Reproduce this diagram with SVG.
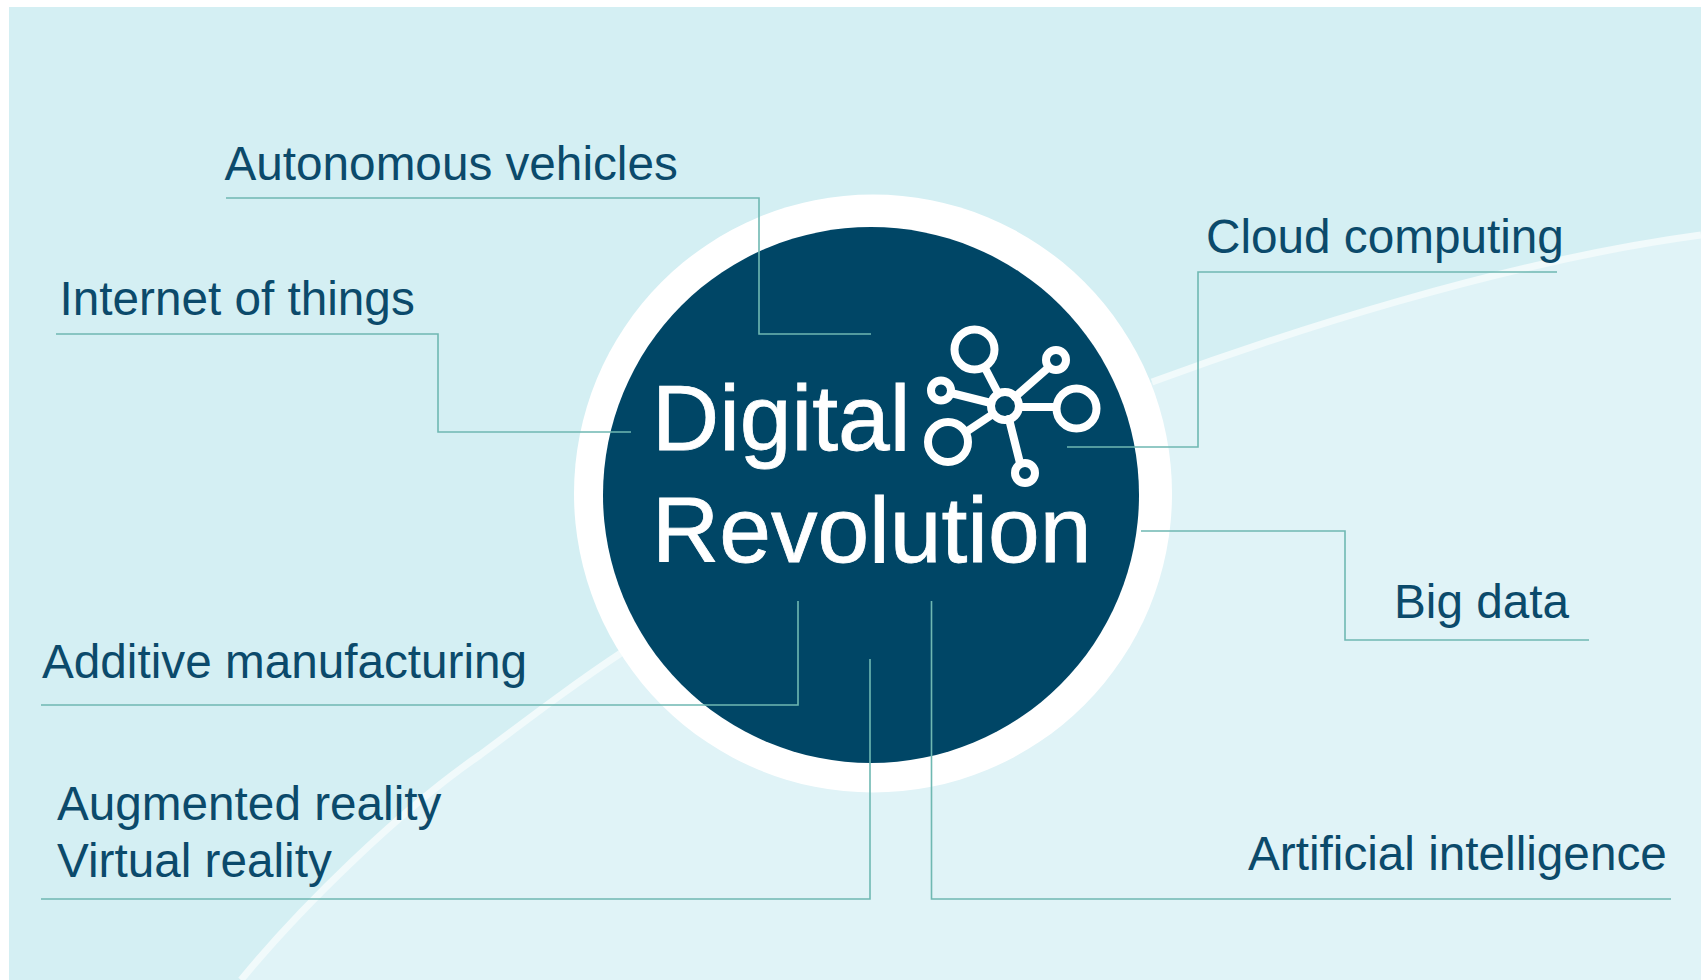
<svg xmlns="http://www.w3.org/2000/svg" width="1701" height="980" viewBox="0 0 1701 980">
<style>
text{font-family:"Liberation Sans",Arial,sans-serif}
.lbl{font-size:47.7px;fill:#0b4a6b}
.title{font-size:93px;fill:#fff;stroke:#fff;stroke-width:.8}
.conn{fill:none;stroke:#6fb8b2;stroke-width:1.6}
.ic{fill:none;stroke:#fff;stroke-width:8}
.arc{fill:none;stroke:#f1fafb;stroke-width:7}
</style>
<rect width="1701" height="980" fill="#fff"/>
<rect x="9" y="7" width="1692" height="973" fill="#d4eff3"/>
<path d="M241 980C300 908 400 810 480 755C540 710 580 680 624 651L1152 382C1280 335 1500 262 1701 235V980Z" fill="#e0f3f7"/>
<path class="arc" d="M241 980C300 908 400 810 480 755C540 710 580 680 624 651"/>
<path class="arc" d="M1152 382C1280 335 1500 262 1701 235"/>
<g id="hub">
<circle cx="873" cy="493.5" r="299" fill="#fff"/>
<circle cx="871" cy="495" r="268" fill="#004666"/>
<text class="title" x="652" y="450">Digital</text>
<text class="title" x="652" y="562">Revolution</text>
<g id="icon" stroke-linecap="round">
<circle class="ic" cx="1005" cy="406" r="14"/>
<circle class="ic" cx="974.5" cy="349.5" r="20"/>
<circle class="ic" cx="1056" cy="360" r="10"/>
<circle class="ic" cx="1076.5" cy="408.5" r="20"/>
<circle class="ic" cx="941" cy="390.5" r="10"/>
<circle class="ic" cx="948" cy="442" r="20"/>
<circle class="ic" cx="1025" cy="473" r="10"/>
<path class="ic" d="M985 368L998 393M1048 368L1015 397M1056 407H1019M951 393L991 403M966 432L993 414M1020 463L1009 419"/>
</g>
</g>
<g id="connectors">
<path class="conn" d="M226 198H759V334H871"/>
<path class="conn" d="M56 334H438V432H631"/>
<path class="conn" d="M1557 272H1198V447H1067"/>
<path class="conn" d="M1141 531H1345V640H1589"/>
<path class="conn" d="M41 705H798V601"/>
<path class="conn" d="M41 899H870V659"/>
<path class="conn" d="M1671 899H931.500V601"/>
</g>
<g id="autonomous"><text class="lbl" x="224.500" y="180">Autonomous vehicles</text></g>
<g id="iot"><text class="lbl" x="59.500" y="315">Internet of things</text></g>
<g id="cloud"><text class="lbl" x="1206" y="253">Cloud computing</text></g>
<g id="bigdata"><text class="lbl" x="1394" y="618">Big data</text></g>
<g id="additive"><text class="lbl" x="42" y="678">Additive manufacturing</text></g>
<g id="arvr"><text class="lbl" x="57" y="820">Augmented reality</text><text class="lbl" x="57" y="877">Virtual reality</text></g>
<g id="ai"><text class="lbl" x="1248" y="870">Artificial intelligence</text></g>
</svg>
